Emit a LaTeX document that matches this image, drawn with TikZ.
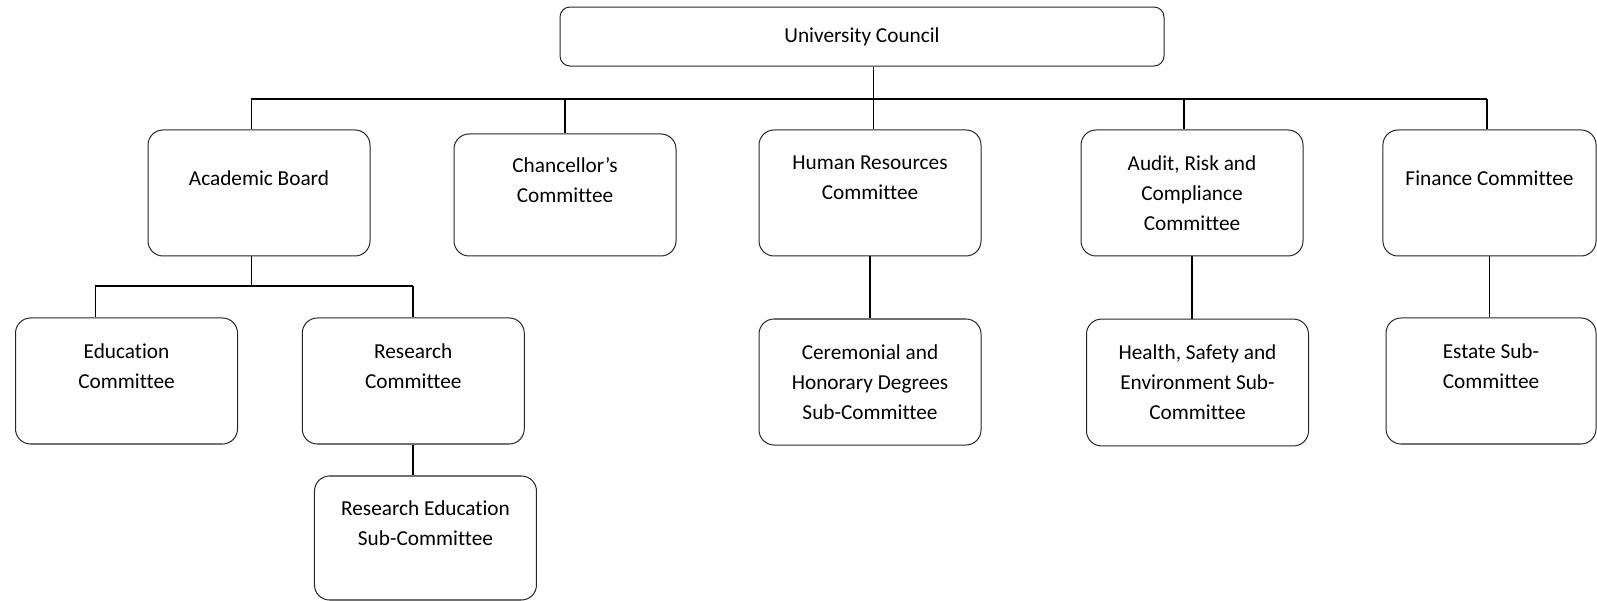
\documentclass[tikz,border=0pt]{standalone}
\usepackage{fontspec}
\setmainfont[Ligatures=NoCommon]{Carlito}
\usetikzlibrary{positioning}

\begin{document}
\begin{tikzpicture}[
  cbox/.style={draw=black!85, line width=0.5pt, rounded corners=7.5pt,
    minimum width=3.885cm, minimum height=2.205cm, align=center,
    inner sep=2pt, font=\fontsize{10.6}{15}\selectfont},
  topbox/.style={cbox, rounded corners=5pt, minimum width=10.57cm, minimum height=1.0325cm},
  link/.style={line width=0.85pt, black},
]
  \useasboundingbox (0,0) rectangle (27.9475,-10.5175);

  % council
  \node[topbox] (uc) at (15.085,-0.639) {University Council};

  % committees
  \node[cbox] (ab) at (4.5325,-3.3775) {Academic Board\\\mbox{}};
  \node[cbox, minimum height=2.135cm] (chan) at (9.8875,-3.4125) {Chancellor’s\\Committee\\\mbox{}};
  \node[cbox] (hr) at (15.225,-3.3775) {Human Resources\\Committee\\\mbox{}};
  \node[cbox] (arc) at (20.86,-3.3775) {Audit, Risk and\\Compliance\\Committee};
  \node[cbox, minimum width=3.73cm] (fin) at (26.066,-3.3775) {Finance Committee\\\mbox{}};

  % sub-committees
  \node[cbox] (edu) at (2.214,-6.6675) {Education\\Committee\\\mbox{}};
  \node[cbox] (res) at (7.232,-6.6675) {Research\\Committee\\\mbox{}};
  \node[cbox, minimum height=2.17cm] (resed) at (7.446,-9.415) {Research Education\\Sub-Committee\\\mbox{}};
  \node[cbox, below=1.085cm of hr] (cer) {Ceremonial and\\Honorary Degrees\\Sub-Committee};
  \node[cbox, minimum height=2.22cm] (hse) at (20.956,-6.694) {Health, Safety and\\Environment Sub-\\Committee};
  \node[cbox, minimum width=3.675cm] (est) at (26.0925,-6.6675) {Estate Sub-\\Committee\\\mbox{}};

  % bus lines
  \coordinate (bus) at (15.286,-1.7325);
  \coordinate (busL) at (4.401,-1.7325);
  \coordinate (busA) at (20.72,-1.7325);
  \coordinate (busR) at (26.0225,-1.7325);
  \coordinate (sub) at (4.401,-5.0);
  \coordinate (subL) at (1.6695,-5.0);

  \draw[link] (uc.south -| bus) -- (bus);
  \draw[link] (busL) -- (busR);
  \draw[link] (busL) -- (busL |- ab.north);
  \draw[link] (chan.north |- bus) -- (chan.north);
  \draw[link] (bus) -- (bus |- hr.north);
  \draw[link] (busA) -- (busA |- arc.north);
  \draw[link] (busR) -- (busR |- fin.north);

  \draw[link] (busL |- ab.south) -- (sub);
  \draw[link] (subL) -- (res.north |- sub);
  \draw[link] (subL) -- (subL |- edu.north);
  \draw[link] (res.north |- sub) -- (res.north);
  \draw[link] (res.south) -- (res.south |- resed.north);

  \draw[link] (hr.south) -- (cer.north);
  \draw[link] (arc.south) -- (arc.south |- hse.north);
  \draw[link] (fin.south) -- (fin.south |- est.north);
\end{tikzpicture}
\end{document}
